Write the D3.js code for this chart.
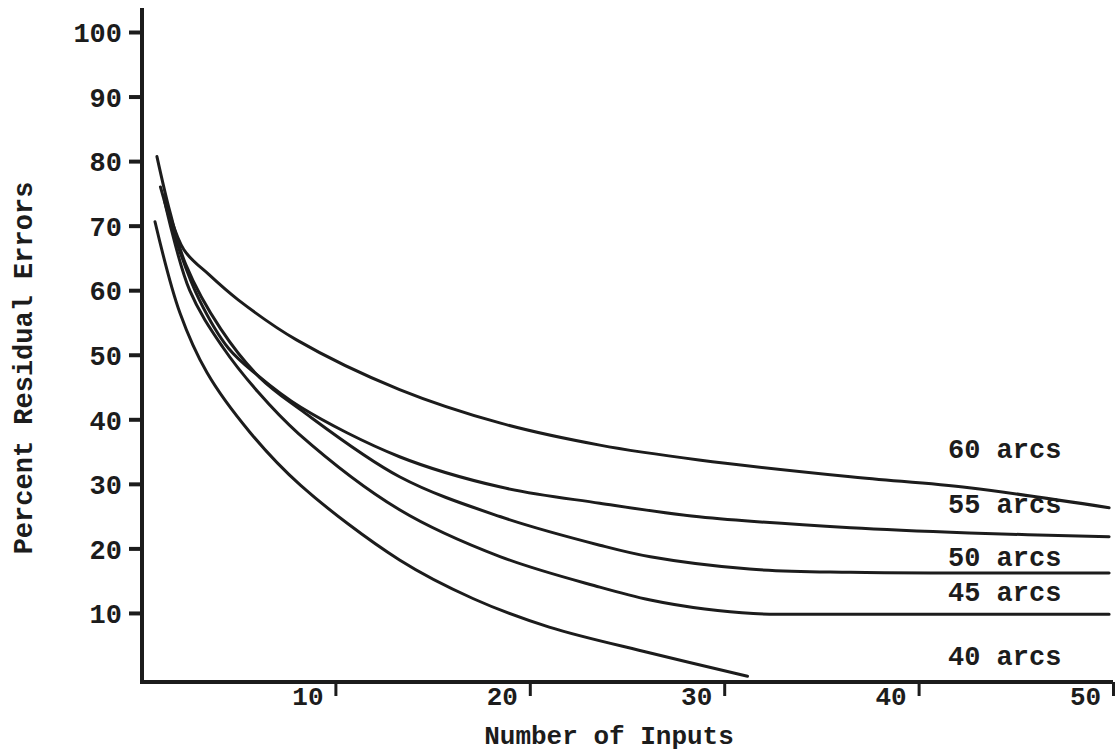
<!DOCTYPE html>
<html>
<head>
<meta charset="utf-8">
<script src="https://cdn.jsdelivr.net/npm/d3@7"></script>
<style>
  body { margin: 0; background: #fff; }
  text { font-family: "Liberation Mono", "DejaVu Sans Mono", monospace; font-weight: bold; fill: #1c1c1c; }
</style>
</head>
<body>
<script>
// values
const seriesNames = ["60 arcs", "55 arcs", "50 arcs", "45 arcs", "40 arcs"];

const arcs60X = [1.2, 2.2, 3.5, 5.0, 8.0, 13.3, 18.5, 23.6, 28.7, 36.5, 42.6, 49.8];
const arcs60Y = [74.5, 66.3, 62.4, 58.5, 52.3, 44.6, 39.4, 36.0, 33.7, 31.1, 29.4, 26.3];

const arcs55X = [1.0, 2.0, 3.0, 4.5, 6.0, 8.2, 13.3, 18.5, 23.6, 28.7, 36.5, 42.6, 49.8];
const arcs55Y = [76.0, 66.0, 58.5, 51.0, 46.8, 41.9, 34.2, 29.5, 27.0, 24.9, 23.2, 22.4, 21.8];

const arcs50X = [0.82, 1.5, 2.3, 4.1, 6.1, 8.2, 13.3, 18.5, 23.6, 26.2, 31.3, 36.5, 42.0, 49.8];
const arcs50Y = [80.7, 72.0, 64.0, 54.0, 46.5, 41.5, 31.1, 24.9, 20.5, 18.7, 16.8, 16.3, 16.2, 16.2];

const arcs45X = [1.2, 2.5, 4.2, 6.0, 8.1, 13.3, 18.5, 23.6, 26.2, 29.0, 31.5, 36.0, 42.0, 49.8];
const arcs45Y = [74.0, 60.0, 51.2, 44.3, 37.8, 26.0, 18.7, 14.0, 12.0, 10.6, 9.9, 9.8, 9.8, 9.8];

const arcs40X = [0.72, 2.0, 3.4, 5.6, 8.2, 13.3, 17.1, 21.0, 26.2, 31.2];
const arcs40Y = [70.6, 56.5, 47.2, 38.0, 29.8, 18.2, 12.2, 7.8, 3.8, 0.2];

// where each label sits, in percent units
const labelY = [34.0, 25.5, 17.2, 11.8, 2.0];

const xTicks = [10, 20, 30, 40, 50];
const yTicks = [10, 20, 30, 40, 50, 60, 70, 80, 90, 100];

const width = 1115, height = 753;

const svg = d3.select("body").append("svg")
    .attr("width", width)
    .attr("height", height);

const x = d3.scaleLinear().domain([0, 50]).range([141, 1113]);
const y = d3.scaleLinear().domain([0, 100]).range([677.5, 32]);
const axisY = 682;

const series = [
    [arcs60X, arcs60Y],
    [arcs55X, arcs55Y],
    [arcs50X, arcs50Y],
    [arcs45X, arcs45Y],
    [arcs40X, arcs40Y]
].map(([xs, ys], i) => ({
    name: seriesNames[i],
    points: xs.map((v, j) => ({x: v, y: ys[j]}))
}));

const line = d3.line()
    .x(d => x(d.x))
    .y(d => y(d.y))
    .curve(d3.curveCatmullRom.alpha(0.5));

// curves
svg.append("g")
    .selectAll("path")
    .data(series)
    .join("path")
    .attr("fill", "none")
    .attr("stroke", "#1c1c1c")
    .attr("stroke-width", 3)
    .attr("stroke-linecap", "round")
    .attr("d", d => line(d.points));

// y axis
const yAxis = d3.axisLeft(y)
    .tickValues(yTicks)
    .tickSize(13)
    .tickPadding(7)
    .tickSizeOuter(0);

const gy = svg.append("g")
    .attr("transform", `translate(${x(0) + 1},0)`)
    .call(yAxis);
gy.select(".domain").remove();
gy.selectAll(".tick line").attr("stroke", "#1c1c1c").attr("stroke-width", 4);
gy.selectAll(".tick text")
    .style("font-size", "27px")
    .attr("dy", "0.36em");

svg.append("line")
    .attr("x1", x(0) + 1).attr("x2", x(0) + 1)
    .attr("y1", 8).attr("y2", axisY + 1.5)
    .attr("stroke", "#1c1c1c").attr("stroke-width", 4);

// x axis
const xAxis = d3.axisBottom(x)
    .tickValues(xTicks)
    .tickSize(14)
    .tickSizeOuter(0);

const gx = svg.append("g")
    .attr("transform", `translate(0,${axisY})`)
    .call(xAxis);
gx.select(".domain").remove();
gx.selectAll(".tick line").attr("stroke", "#1c1c1c").attr("stroke-width", 3);
gx.selectAll(".tick text")
    .style("font-size", "26px")
    .attr("x", -28)
    .attr("y", 23)
    .attr("dy", 0);

svg.append("line")
    .attr("x1", x(0) - 1).attr("x2", x(50))
    .attr("y1", axisY).attr("y2", axisY)
    .attr("stroke", "#1c1c1c").attr("stroke-width", 4);

// series labels
svg.append("g")
    .selectAll("text")
    .data(series)
    .join("text")
    .attr("x", 948)
    .attr("y", (d, i) => y(labelY[i]))
    .style("font-size", "27px")
    .text(d => d.name);

// axis titles
svg.append("text")
    .attr("x", 609)
    .attr("y", 744)
    .attr("text-anchor", "middle")
    .style("font-size", "26px")
    .text("Number of Inputs");

svg.append("text")
    .attr("transform", `translate(32,368) rotate(-90)`)
    .attr("text-anchor", "middle")
    .style("font-size", "27px")
    .text("Percent Residual Errors");
</script>
</body>
</html>
